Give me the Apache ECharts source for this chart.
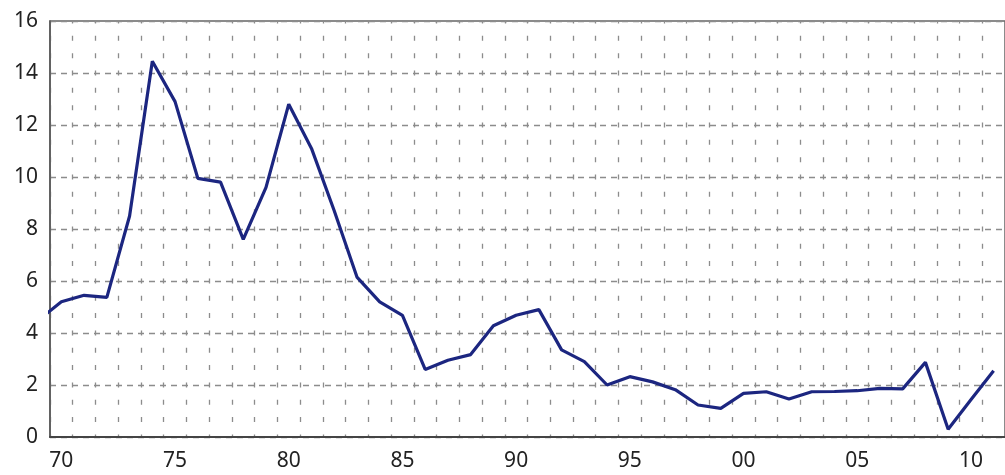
<!DOCTYPE html>
<html>
<head>
<meta charset="utf-8">
<script src="https://cdn.jsdelivr.net/npm/echarts@6/dist/echarts.min.js"></script>
<style>
html,body{margin:0;padding:0;background:#fff;}
#chart{width:1005px;height:475px;}
</style>
</head>
<body>
<div id="chart"></div>
<script>
// Years shown as categories on the axis
const categories = [1970,1971,1972,1973,1974,1975,1976,1977,1978,1979,
  1980,1981,1982,1983,1984,1985,1986,1987,1988,1989,
  1990,1991,1992,1993,1994,1995,1996,1997,1998,1999,
  2000,2001,2002,2003,2004,2005,2006,2007,2008,2009,2010,2011];
// Years of the series (1969 is partly clipped at the left edge)
const seriesYears = [1969,1970,1971,1972,1973,1974,1975,1976,1977,1978,1979,
  1980,1981,1982,1983,1984,1985,1986,1987,1988,1989,
  1990,1991,1992,1993,1994,1995,1996,1997,1998,1999,
  2000,2001,2002,2003,2004,2005,2006,2007,2008,2009,2010,2011];
const seriesValues = [4.5,5.2,5.45,5.37,8.5,14.45,12.9,9.95,9.8,7.6,9.6,
  12.8,11.1,8.7,6.15,5.2,4.68,2.6,2.95,3.17,4.28,
  4.68,4.9,3.35,2.9,2.0,2.32,2.12,1.82,1.23,1.1,
  1.68,1.74,1.46,1.74,1.75,1.78,1.87,1.85,2.87,0.3,1.43,2.55];
// Tick labels
const xTickLabels = {1970:'70',1975:'75',1980:'80',1985:'85',1990:'90',1995:'95',2000:'00',2005:'05',2010:'10'};
const yTicks = [0,2,4,6,8,10,12,14,16];

const chart = echarts.init(document.getElementById('chart'), null, {renderer:'canvas'});
const labelFont = {fontFamily:'"Noto Sans", sans-serif', fontSize:21, color:'#222'};
const option = {
  animation:false,
  backgroundColor:'#fff',
  grid:{left:50, top:21, width:956, height:416, show:true, borderColor:'#666', borderWidth:1.5, backgroundColor:'transparent'},
  xAxis:[{
    type:'category',
    data:categories.map(String),
    boundaryGap:true,
    axisLine:{show:true, lineStyle:{color:'#444', width:2}},
    axisTick:{show:false},
    axisLabel:Object.assign({
      interval:function(i,v){return xTickLabels[v]!==undefined;},
      formatter:function(v){return xTickLabels[v]||'';},
      margin:14
    }, labelFont),
    splitLine:{show:true, interval:0, lineStyle:{color:'#8c8c8c', width:1.3, type:[5,12.33], dashOffset:2.5}}
  },{
    type:'value',
    min:1969.5, max:2011.5,
    show:false,
    splitLine:{show:false}
  }],
  yAxis:{
    type:'value',
    min:yTicks[0], max:yTicks[yTicks.length-1], interval:2,
    axisLine:{show:true, lineStyle:{color:'#555', width:1.5}},
    axisTick:{show:false},
    axisLabel:Object.assign({margin:12}, labelFont),
    splitLine:{show:true, lineStyle:{color:'#8c8c8c', width:1.3, type:[6,5]}}
  },
  series:[{
    type:'line',
    xAxisIndex:1,
    data:seriesYears.map((y,i)=>[y,seriesValues[i]]),
    showSymbol:false,
    symbol:'none',
    lineStyle:{color:'#1c2680', width:3.2},
    clip:true
  }]
};
chart.setOption(option);
</script>
</body>
</html>
